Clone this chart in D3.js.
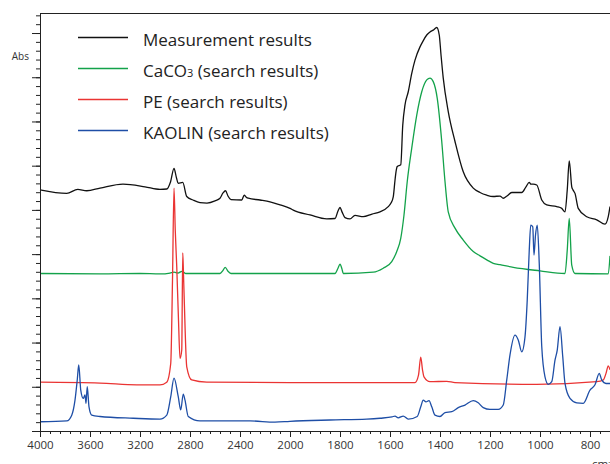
<!DOCTYPE html>
<html>
<head>
<meta charset="utf-8">
<script src="https://cdn.jsdelivr.net/npm/d3@7"></script>
<style>
  html, body { margin: 0; padding: 0; background: #fff; }
  svg { display: block; }
  text { font-family: "Open Sans", "Noto Sans", sans-serif; }
</style>
</head>
<body>
<svg id="chart" width="610" height="464"></svg>
<script>
// ---------- DATA (wavenumber cm-1, absorbance) ----------
const seriesNames = ["Measurement results", "CaCO3 (search results)", "PE (search results)", "KAOLIN (search results)"];
const seriesColors = ["#111111", "#13a24a", "#ea3433", "#1e4ea6"];

const xMajorTicks = [4000, 3600, 3200, 2800, 2400, 2000, 1800, 1600, 1400, 1200, 1000, 800];

const measurement = [
  [4000,0.548],[3786,0.540],[3698,0.549],[3626,0.546],[3520,0.552],[3336,0.561],[3160,0.555],
  [3040,0.549],[2986,0.550],[2956,0.566],[2928,0.597],[2908,0.575],[2894,0.563],[2858,0.565],
  [2826,0.533],[2776,0.525],[2720,0.519],[2664,0.518],[2600,0.523],[2560,0.529],[2536,0.541],
  [2516,0.546],[2496,0.534],[2472,0.526],[2386,0.525],[2366,0.536],[2352,0.532],[2334,0.529],
  [2240,0.525],[2160,0.521],[2080,0.514],[2000,0.506],[1987,0.502],[1920,0.491],[1853,0.482],
  [1820,0.483],[1808,0.500],[1800,0.508],[1792,0.498],[1780,0.485],[1760,0.482],[1740,0.490],
  [1707,0.487],[1672,0.493],[1640,0.498],[1607,0.510],[1596,0.518],[1587,0.532],[1580,0.570],
  [1576,0.589],[1571,0.601],[1557,0.605],[1549,0.695],[1540,0.741],[1527,0.771],[1513,0.813],
  [1500,0.843],[1480,0.873],[1468,0.886],[1453,0.900],[1440,0.907],[1427,0.911],[1413,0.917],
  [1403,0.900],[1396,0.855],[1387,0.802],[1367,0.726],[1340,0.658],[1307,0.589],[1267,0.552],
  [1240,0.542],[1213,0.536],[1187,0.533],[1160,0.534],[1147,0.529],[1132,0.534],[1113,0.542],
  [1073,0.542],[1056,0.555],[1043,0.565],[1036,0.561],[1027,0.561],[1013,0.559],[993,0.525],
  [973,0.514],[933,0.510],[913,0.506],[900,0.498],[891,0.548],[883,0.614],[873,0.555],
  [868,0.548],[860,0.540],[847,0.506],[813,0.487],[773,0.480],[740,0.470],[727,0.487],[720,0.510]
];

const caco3 = [
  [4000,0.358],[3520,0.357],[3200,0.358],[3040,0.357],[2960,0.359],[2928,0.361],[2896,0.359],
  [2864,0.363],[2832,0.358],[2560,0.358],[2536,0.365],[2518,0.372],[2496,0.363],[2472,0.358],
  [2000,0.358],[1820,0.358],[1808,0.370],[1800,0.379],[1792,0.368],[1787,0.358],[1667,0.361],
  [1627,0.370],[1593,0.385],[1573,0.408],[1557,0.438],[1544,0.491],[1531,0.567],[1513,0.643],
  [1493,0.718],[1473,0.771],[1453,0.798],[1440,0.802],[1427,0.794],[1411,0.756],[1393,0.658],
  [1380,0.567],[1367,0.498],[1340,0.461],[1307,0.434],[1267,0.408],[1240,0.398],[1213,0.389],
  [1187,0.381],[1160,0.378],[1107,0.372],[1000,0.364],[900,0.358],[891,0.411],[883,0.483],
  [873,0.377],[860,0.358],[727,0.357],[720,0.398]
];

const pe = [
  [4000,0.111],[3520,0.109],[3226,0.105],[3040,0.105],[2986,0.111],[2954,0.154],[2940,0.343],
  [2928,0.552],[2918,0.457],[2906,0.373],[2892,0.252],[2880,0.165],[2866,0.184],[2858,0.405],
  [2852,0.355],[2846,0.298],[2826,0.146],[2786,0.116],[2666,0.111],[2000,0.110],[1500,0.110],
  [1486,0.127],[1477,0.168],[1470,0.139],[1464,0.123],[1440,0.112],[1373,0.113],[1340,0.110],
  [1013,0.106],[773,0.112],[747,0.116],[736,0.131],[727,0.148],[720,0.139]
];

const kaolin = [
  [4000,0.021],[3786,0.023],[3746,0.036],[3720,0.070],[3702,0.116],[3690,0.150],[3674,0.093],
  [3654,0.074],[3640,0.082],[3632,0.063],[3622,0.101],[3608,0.055],[3586,0.036],[3520,0.033],
  [3254,0.029],[3040,0.027],[2986,0.036],[2954,0.078],[2928,0.120],[2894,0.078],[2874,0.048],
  [2854,0.084],[2840,0.070],[2814,0.033],[2720,0.023],[2320,0.023],[2120,0.020],[2000,0.022],
  [1840,0.025],[1693,0.027],[1640,0.029],[1592,0.032],[1580,0.034],[1567,0.030],[1547,0.034],
  [1527,0.027],[1491,0.033],[1477,0.055],[1467,0.070],[1456,0.066],[1444,0.069],[1433,0.055],
  [1420,0.036],[1400,0.033],[1380,0.042],[1353,0.044],[1327,0.053],[1300,0.059],[1267,0.069],
  [1247,0.064],[1227,0.053],[1200,0.049],[1167,0.049],[1147,0.059],[1133,0.116],[1120,0.173],
  [1100,0.218],[1087,0.207],[1073,0.180],[1060,0.214],[1051,0.298],[1043,0.411],[1037,0.468],
  [1029,0.464],[1024,0.400],[1018,0.445],[1011,0.468],[1003,0.381],[993,0.192],[980,0.123],
  [967,0.106],[953,0.112],[940,0.161],[931,0.184],[920,0.237],[909,0.169],[900,0.108],
  [880,0.074],[853,0.064],[827,0.063],[800,0.093],[780,0.105],[763,0.131],[753,0.116],
  [736,0.108],[720,0.108]
];

const seriesData = [measurement, caco3, pe, kaolin];

// ---------- LAYOUT ----------
const svg = d3.select("#chart");
const plotLeft = 40, plotRight = 610, plotTop = 13, plotBottom = 431;

// Wavenumber axis with scale change at 2000 cm-1
const x = d3.scaleLinear().domain([4000, 2000, 720]).range([plotLeft, 290, plotRight]);
const y = d3.scaleLinear().domain([0, 0.95]).range([plotBottom, plotTop]);

const axisColor = "#222";

// Spectra
const line = d3.line()
  .x(d => x(d[0]))
  .y(d => y(d[1]))
  .curve(d3.curveMonotoneX);

svg.append("g").selectAll("path")
  .data(seriesData)
  .join("path")
  .attr("d", line)
  .attr("fill", "none")
  .attr("stroke", (d, i) => seriesColors[i])
  .attr("stroke-width", 1.3)
  .attr("stroke-linejoin", "round");

// ---------- AXES ----------
// Y axis (no labels): major every 0.1005 (44.2px), 5 minor subdivisions
const yStep = 0.1005;
const yMinor = d3.range(0, 0.95, yStep / 5);
const yMajorVals = d3.range(0, 0.95, yStep);
const yAxis = d3.axisLeft(y).tickValues(yMajorVals).tickSize(8).tickFormat("");
const yAxisMinor = d3.axisLeft(y).tickValues(yMinor).tickSize(4).tickFormat("");

const gyMinor = svg.append("g").attr("transform", `translate(${plotLeft},0)`).call(yAxisMinor);
const gy = svg.append("g").attr("transform", `translate(${plotLeft},0)`).call(yAxis);
[gy, gyMinor].forEach(g => {
  g.select(".domain").remove();
  g.selectAll(".tick line").attr("stroke", axisColor).attr("stroke-width", 1);
});
svg.append("line").attr("x1", plotLeft + 0.5).attr("x2", plotLeft + 0.5)
  .attr("y1", plotTop).attr("y2", plotBottom + 6).attr("stroke", axisColor).attr("stroke-width", 1);
// top frame line
svg.append("line").attr("x1", plotLeft).attr("x2", plotRight)
  .attr("y1", plotTop + 0.5).attr("y2", plotTop + 0.5).attr("stroke", axisColor).attr("stroke-width", 1);

// X axis
const xMinor = d3.range(4000, 2000, -80).concat(d3.range(2000, 719, -40));
const xAxis = d3.axisBottom(x).tickValues(xMajorTicks).tickSize(6).tickPadding(4)
  .tickFormat(d => d);
const xAxisMinor = d3.axisBottom(x).tickValues(xMinor).tickSize(3).tickFormat("");
const gxMinor = svg.append("g").attr("transform", `translate(0,${plotBottom})`).call(xAxisMinor);
const gx = svg.append("g").attr("transform", `translate(0,${plotBottom})`).call(xAxis);
[gx, gxMinor].forEach(g => {
  g.select(".domain").remove();
  g.selectAll(".tick line").attr("stroke", axisColor).attr("stroke-width", 1);
});
gx.selectAll(".tick text")
  .attr("fill", "#333")
  .style("font-size", "11.5px")
  .style("font-family", "'Open Sans', sans-serif");
svg.append("line").attr("x1", 33).attr("x2", plotRight)
  .attr("y1", plotBottom + 0.5).attr("y2", plotBottom + 0.5).attr("stroke", axisColor).attr("stroke-width", 1);

// Axis titles
svg.append("text").attr("x", 29).attr("y", 60).attr("text-anchor", "end")
  .attr("fill", "#333").style("font-size", "10px").text("Abs");
svg.append("text").attr("x", 592).attr("y", 468).attr("text-anchor", "start")
  .attr("fill", "#333").style("font-size", "11.5px")
  .text("cm").append("tspan").attr("dy", -4).style("font-size", "8px").text("-1");

// ---------- LEGEND ----------
const legendY0 = 37.5, legendStep = 31;
const lg = svg.append("g");
seriesNames.forEach((name, i) => {
  const yy = legendY0 + i * legendStep;
  lg.append("line").attr("x1", 78).attr("x2", 128).attr("y1", yy).attr("y2", yy)
    .attr("stroke", seriesColors[i]).attr("stroke-width", 1.6);
  const t = lg.append("text").attr("x", 143).attr("y", yy + 8.5)
    .attr("fill", "#222").style("font-size", "17px");
  const m = name.match(/^(CaCO)(3)(.*)$/);
  if (m) {
    t.append("tspan").text(m[1]);
    t.append("tspan").style("font-size", "11px").text(m[2]);
    t.append("tspan").text(m[3]);
  } else {
    t.text(name);
  }
});
</script>
</body>
</html>
